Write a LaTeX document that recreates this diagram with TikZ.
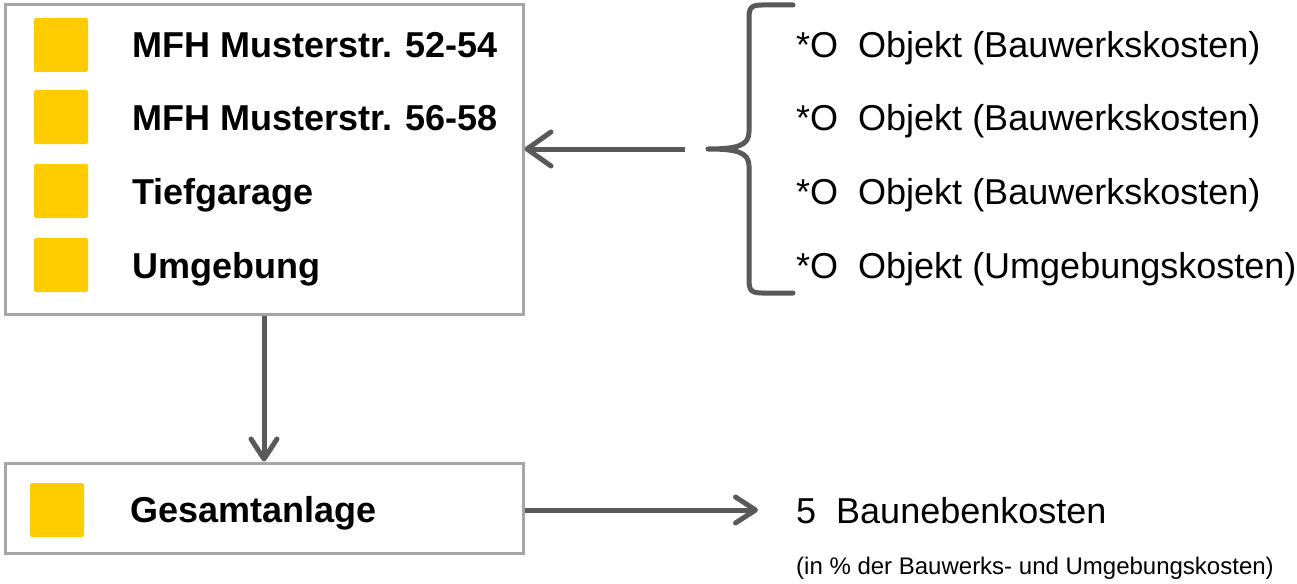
\documentclass[tikz,border=0pt]{standalone}
\usepackage{fontspec}
\setmainfont{Liberation Sans}
\usetikzlibrary{arrows.meta, positioning}

\definecolor{boxgray}{HTML}{A6A6A6}
\definecolor{arrowgray}{HTML}{595959}
\definecolor{markyellow}{HTML}{FFCC00}

\begin{document}
\begin{tikzpicture}[
    x=1pt, y=-1pt,
    box/.style={draw=boxgray, line width=3pt, minimum width=518pt},
    yellowsq/.style={fill=markyellow, rounded corners=2pt, minimum size=54pt, inner sep=0pt},
    rowtext/.style={anchor=base west, inner sep=0pt, font=\fontsize{36}{40}\selectfont\bfseries},
    costtext/.style={anchor=base west, inner sep=0pt, font=\fontsize{36}{40}\selectfont},
    flow/.style={draw=arrowgray, line width=5pt, -{Straight Barb[round, length=20pt, width=26pt]}}
]

    \useasboundingbox (0,0) rectangle (1297,583);

    % Objekte (oben links)
    \node[box, minimum height=309pt] (objekte) at (264,159.5) {};
    \foreach \i/\y/\txt in {1/45/{MFH Musterstr. 52-54}, 2/117/{MFH Musterstr. 56-58}, 3/191/Tiefgarage, 4/265/Umgebung} {
        \node[yellowsq] (sq\i) at (61,\y) {};
        \node[rowtext] (obj\i) at (132,\y+13) {\txt};
    }

    % Kostenarten rechts
    \foreach \i/\y/\txt in {1/58/Bauwerkskosten, 2/130/Bauwerkskosten, 3/204/Bauwerkskosten, 4/278/Umgebungskosten} {
        \node[costtext] (kg\i) at (796,\y) {*O\ \ Objekt (\txt)};
    }

    % Klammer
    \coordinate (spitze) at (708,149);
    \draw[arrowgray, line width=5pt, line cap=round, line join=round]
        (793,5) -- (762,5) .. controls (751,5) and (749,8) .. (749,18)
        -- (749,132) .. controls (749,146) and (736,149) .. (spitze)
        (793,293) -- (762,293) .. controls (751,293) and (749,290) .. (749,280)
        -- (749,166) .. controls (749,152) and (736,149) .. (spitze);
    \coordinate (klammer) at (685,149);
    \draw[flow, -{Straight Barb[round, length=24pt, width=34pt]}] (klammer) -- (objekte.east |- klammer);

    % Gesamtanlage
    \node[box, minimum height=90pt] (gesamt) at (264,508) {};
    \node[yellowsq] (sq5) at (57,510) {};
    \node[rowtext] (gesamttext) at (130,522) {Gesamtanlage};
    \draw[flow] (objekte) -- (gesamt);

    % Baunebenkosten
    \coordinate (ziel) at (758,510);
    \draw[flow] (gesamt.east |- ziel) -- (ziel);
    \node[costtext] (nebenkosten) at (796,523) {5\ \ Baunebenkosten};
    \node[anchor=base west, inner sep=0pt, font=\fontsize{24}{28}\selectfont] (hinweis) at (796,574) {(in \% der Bauwerks- und Umgebungskosten)};

\end{tikzpicture}
\end{document}
